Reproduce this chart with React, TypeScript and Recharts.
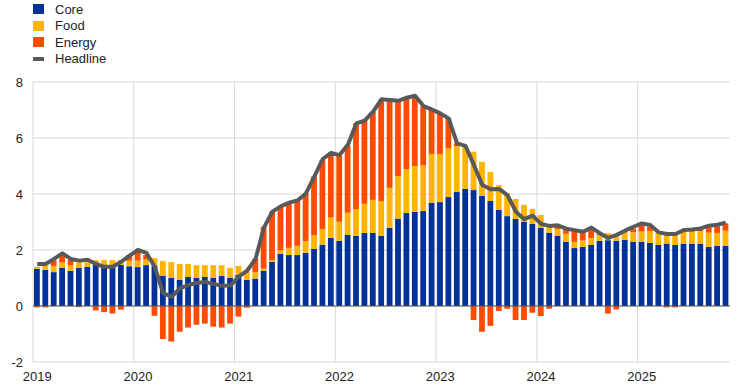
import React from 'react';
import { ComposedChart, Bar, Line, XAxis, YAxis, CartesianGrid, ReferenceLine } from 'recharts';

// monthly observations, Jan 2019 - Nov 2025
const months = [
  '2019-01', '2019-02', '2019-03', '2019-04', '2019-05', '2019-06', '2019-07', '2019-08', '2019-09', '2019-10', '2019-11', '2019-12',
  '2020-01', '2020-02', '2020-03', '2020-04', '2020-05', '2020-06', '2020-07', '2020-08', '2020-09', '2020-10', '2020-11', '2020-12',
  '2021-01', '2021-02', '2021-03', '2021-04', '2021-05', '2021-06', '2021-07', '2021-08', '2021-09', '2021-10', '2021-11', '2021-12',
  '2022-01', '2022-02', '2022-03', '2022-04', '2022-05', '2022-06', '2022-07', '2022-08', '2022-09', '2022-10', '2022-11', '2022-12',
  '2023-01', '2023-02', '2023-03', '2023-04', '2023-05', '2023-06', '2023-07', '2023-08', '2023-09', '2023-10', '2023-11', '2023-12',
  '2024-01', '2024-02', '2024-03', '2024-04', '2024-05', '2024-06', '2024-07', '2024-08', '2024-09', '2024-10', '2024-11', '2024-12',
  '2025-01', '2025-02', '2025-03', '2025-04', '2025-05', '2025-06', '2025-07', '2025-08', '2025-09', '2025-10', '2025-11',
];

const core = [
  1.33, 1.29, 1.21, 1.37, 1.26, 1.37, 1.40, 1.47, 1.44, 1.44, 1.47, 1.42,
  1.39, 1.46, 1.45, 1.07, 1.00, 0.94, 1.04, 1.00, 1.04, 1.00, 1.07, 1.00,
  1.12, 0.93, 0.98, 1.26, 1.58, 1.87, 1.82, 1.82, 1.90, 2.04, 2.19, 2.43,
  2.33, 2.54, 2.51, 2.61, 2.61, 2.51, 2.80, 3.12, 3.32, 3.36, 3.39, 3.69,
  3.71, 3.89, 4.07, 4.18, 4.14, 3.93, 3.75, 3.43, 3.21, 3.11, 3.01, 2.93,
  2.80, 2.62, 2.50, 2.29, 2.07, 2.11, 2.18, 2.33, 2.35, 2.33, 2.37, 2.30,
  2.30, 2.25, 2.18, 2.23, 2.18, 2.23, 2.23, 2.23, 2.11, 2.15, 2.15,
];

const food = [
  0.07, 0.15, 0.22, 0.18, 0.19, 0.18, 0.16, 0.17, 0.20, 0.20, 0.17, 0.20,
  0.23, 0.20, 0.26, 0.54, 0.57, 0.56, 0.46, 0.46, 0.42, 0.46, 0.39, 0.36,
  0.31, 0.29, 0.23, 0.08, 0.06, 0.13, 0.26, 0.33, 0.42, 0.48, 0.56, 0.73,
  0.68, 0.79, 0.95, 1.04, 1.18, 1.24, 1.42, 1.52, 1.57, 1.64, 1.64, 1.74,
  1.72, 1.74, 1.64, 1.52, 1.37, 1.22, 1.04, 0.89, 0.81, 0.71, 0.60, 0.54,
  0.45, 0.20, 0.25, 0.29, 0.22, 0.23, 0.25, 0.20, 0.25, 0.15, 0.26, 0.33,
  0.36, 0.43, 0.42, 0.31, 0.36, 0.43, 0.43, 0.45, 0.51, 0.46, 0.54,
];

const energy = [
  -0.05, -0.05, 0.20, 0.27, 0.19, -0.04, 0.00, -0.16, -0.22, -0.27, -0.13, 0.20,
  0.35, 0.16, -0.35, -1.18, -1.27, -0.92, -0.77, -0.67, -0.63, -0.74, -0.77, -0.63,
  -0.38, -0.06, 0.48, 1.49, 1.73, 1.55, 1.61, 1.63, 1.70, 2.11, 2.46, 2.30,
  2.35, 2.41, 3.06, 3.00, 3.15, 3.63, 3.12, 2.69, 2.55, 2.51, 2.10, 1.60,
  1.45, 1.07, 0.10, 0.03, -0.50, -0.92, -0.71, -0.18, -0.10, -0.50, -0.50, -0.24,
  -0.36, -0.10, 0.11, 0.18, 0.39, 0.29, 0.32, 0.06, -0.27, -0.12, 0.03, 0.14,
  0.26, 0.15, 0.02, -0.05, -0.05, 0.02, 0.02, 0.05, 0.19, 0.24, 0.26,
];

const headline = [
  1.50, 1.50, 1.68, 1.88, 1.68, 1.62, 1.65, 1.50, 1.40, 1.40, 1.58, 1.80,
  2.00, 1.90, 1.40, 0.46, 0.33, 0.63, 0.75, 0.82, 0.86, 0.79, 0.72, 0.73,
  1.05, 1.26, 1.68, 2.80, 3.37, 3.56, 3.69, 3.77, 4.02, 4.62, 5.25, 5.47,
  5.39, 5.76, 6.52, 6.62, 6.94, 7.38, 7.36, 7.33, 7.44, 7.51, 7.14, 7.02,
  6.88, 6.70, 5.81, 5.72, 5.04, 4.32, 4.17, 4.18, 3.96, 3.37, 3.10, 3.23,
  2.93, 2.86, 2.88, 2.76, 2.71, 2.65, 2.80, 2.60, 2.43, 2.54, 2.69, 2.83,
  2.95, 2.89, 2.63, 2.57, 2.57, 2.71, 2.73, 2.77, 2.87, 2.90, 2.98,
];

const yearTicks = ['2019-01', '2020-01', '2021-01', '2022-01', '2023-01', '2024-01', '2025-01'];
const yTicks = [-2, 0, 2, 4, 6, 8];

const data = months.map((month, i) => ({
  month,
  core: core[i],
  food: food[i],
  energy: energy[i],
  headline: headline[i],
}));

const COLORS = {
  core: '#003299',
  food: '#ffb400',
  energy: '#ff4b00',
  headline: '#595959',
};

const FONT = '"Liberation Sans", Arial, sans-serif';

const legendItems = [
  { label: 'Core', color: COLORS.core, kind: 'box' },
  { label: 'Food', color: COLORS.food, kind: 'box' },
  { label: 'Energy', color: COLORS.energy, kind: 'box' },
  { label: 'Headline', color: COLORS.headline, kind: 'line' },
];

// vertical grid lines sit on the start of each January band
const yearGrid = ({ offset }: any) => {
  const step = offset.width / months.length;
  return yearTicks.map((t) => offset.left + months.indexOf(t) * step);
};

function ChartLegend() {
  return (
    <div style={{ position: 'absolute', left: 33, top: 1, fontFamily: FONT, fontSize: 13, color: '#222' }}>
      {legendItems.map((item) => (
        <div key={item.label} style={{ display: 'flex', alignItems: 'center', height: 16.5 }}>
          <span
            style={{
              display: 'inline-block',
              width: 11,
              height: item.kind === 'box' ? 10 : 4,
              background: item.color,
              marginRight: 11,
            }}
          />
          <span>{item.label}</span>
        </div>
      ))}
    </div>
  );
}

export default function App() {
  return (
    <div style={{ position: 'relative', width: 742, height: 388, background: '#fff' }}>
      <style>{'body{margin:0}'}</style>
      <ChartLegend />
      <ComposedChart
        width={742}
        height={388}
        data={data}
        margin={{ top: 82, right: 12, bottom: 0, left: 0 }}
        stackOffset="sign"
        barGap={0}
      >
        <CartesianGrid stroke="#d9d9d9" verticalCoordinatesGenerator={yearGrid} />
        <XAxis
          dataKey="month"
          ticks={yearTicks}
          interval={0}
          tickFormatter={(m: string) => m.slice(0, 4)}
          axisLine={false}
          tickLine={false}
          tickMargin={4}
          height={26}
          tick={{ fill: '#222', fontSize: 13, fontFamily: FONT }}
        />
        <YAxis
          domain={[-2, 8]}
          ticks={yTicks}
          axisLine={false}
          tickLine={false}
          tickMargin={4}
          width={33}
          tick={{ fill: '#222', fontSize: 13, fontFamily: FONT }}
        />
        <Bar dataKey="core" stackId="a" fill={COLORS.core} barSize={5.8} isAnimationActive={false} />
        <Bar dataKey="food" stackId="a" fill={COLORS.food} barSize={5.8} isAnimationActive={false} />
        <Bar dataKey="energy" stackId="a" fill={COLORS.energy} barSize={5.8} isAnimationActive={false} />
        <ReferenceLine y={0} stroke="#555" strokeWidth={1.2} />
        <Line
          type="linear"
          dataKey="headline"
          stroke={COLORS.headline}
          strokeWidth={4}
          dot={false}
          activeDot={false}
          strokeLinejoin="round"
          isAnimationActive={false}
        />
      </ComposedChart>
    </div>
  );
}
